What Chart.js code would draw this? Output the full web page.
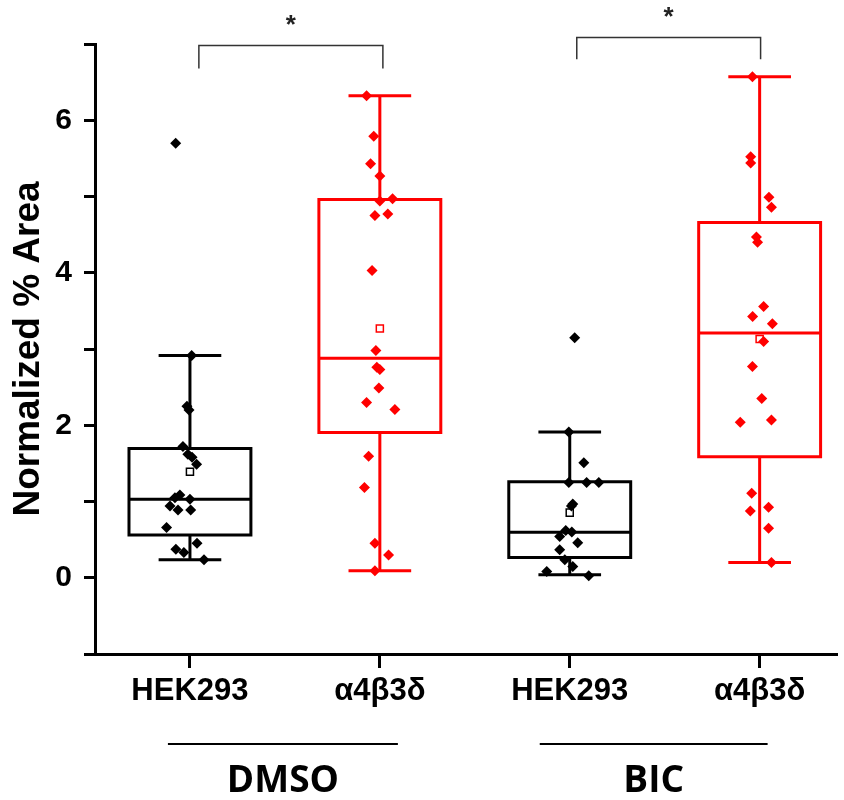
<!DOCTYPE html>
<html>
<head>
<meta charset="utf-8">
<script src="https://cdn.jsdelivr.net/npm/chart.js@4.4.0/dist/chart.umd.min.js"></script>
<style>
  body { margin: 0; background: #fff; }
  canvas { display: block; }
</style>
</head>
<body>
<canvas id="chart" width="844" height="800"></canvas>
<script>
// categories along x
const labels = ['HEK293', 'α4β3δ', 'HEK293', 'α4β3δ']
const positions = [1, 2, 3, 4]
const colors = ['#000000', '#ff0000', '#000000', '#ff0000']

// groups under the axis
const groupNames = ['DMSO', 'BIC']
const groupFrom = [0.884, 2.842]
const groupTo = [2.095, 4.042]

// significance brackets
const bracketFrom = [1.047, 3.037]
const bracketTo = [2.016, 4.005]
const bracketTop = [6.98, 7.085]
const bracketLegs = [6.68, 6.80]
const bracketMark = ['*', '*']

// box stats
const whiskerLow = [0.235, 0.092, 0.039, 0.20]
const q1 = [0.562, 1.905, 0.266, 1.586]
const medians = [1.03, 2.88, 0.597, 3.21]
const q3 = [1.695, 4.96, 1.259, 4.66]
const whiskerHigh = [2.915, 6.32, 1.913, 6.57]
const means = [1.39, 3.27, 0.854, 3.13]

// individual points (jittered x, value)
const dmsoHekX = [0.925, 1.009, 0.984, 0.995, 0.963, 0.989, 1.011, 1.035, 0.947, 0.921, 1.0, 0.895, 0.937, 1.004, 0.877, 1.037, 0.926, 0.968, 1.074]
const dmsoHekY = [5.70, 2.915, 2.25, 2.20, 1.72, 1.62, 1.58, 1.49, 1.085, 1.05, 1.03, 0.94, 0.89, 0.89, 0.658, 0.453, 0.375, 0.33, 0.235]
const dmsoA4X = [1.930, 1.968, 1.951, 2.0, 2.067, 2.0, 1.974, 2.042, 1.959, 1.979, 1.984, 2.0, 1.995, 1.930, 2.079, 1.941, 1.919, 1.974, 2.046, 1.974]
const dmsoA4Y = [6.32, 5.79, 5.43, 5.27, 4.97, 4.94, 4.75, 4.77, 4.03, 2.98, 2.76, 2.73, 2.49, 2.30, 2.205, 1.595, 1.185, 0.453, 0.30, 0.092]
const bicHekX = [3.026, 2.995, 3.074, 2.995, 3.089, 3.153, 3.016, 3.009, 2.979, 3.011, 2.947, 3.042, 2.947, 2.974, 3.016, 2.879, 3.1]
const bicHekY = [3.146, 1.913, 1.507, 1.25, 1.25, 1.25, 0.967, 0.94, 0.62, 0.60, 0.54, 0.46, 0.366, 0.235, 0.148, 0.083, 0.026]
const bicA4X = [3.962, 3.953, 3.953, 4.049, 4.062, 3.983, 3.989, 4.021, 3.963, 4.067, 4.021, 3.962, 4.011, 3.898, 4.062, 3.958, 3.951, 4.047, 4.047, 4.062]
const bicA4Y = [6.57, 5.52, 5.44, 4.99, 4.86, 4.47, 4.40, 3.556, 3.425, 3.33, 3.10, 2.77, 2.35, 2.04, 2.07, 1.107, 0.876, 0.924, 0.65, 0.20]

const pointX = [dmsoHekX, dmsoA4X, bicHekX, bicA4X]
const pointY = [dmsoHekY, dmsoA4Y, bicHekY, bicA4Y]

const boxWidth = 0.642
const capWidth = 0.33

function toPoints(xs, ys) {
    return xs.map((x, i) => ({x: x, y: ys[i]}))
}

const boxPlugin = {
    id: 'boxes',
    beforeDatasetsDraw(chart) {
        let ctx = chart.ctx
        let xs = chart.scales.x, ys = chart.scales.y
        ctx.save()
        ctx.lineWidth = 3
        positions.forEach((p, i) => {
            let cx = xs.getPixelForValue(p)
            let left = xs.getPixelForValue(p - boxWidth / 2)
            let right = xs.getPixelForValue(p + boxWidth / 2)
            let capL = xs.getPixelForValue(p - capWidth / 2)
            let capR = xs.getPixelForValue(p + capWidth / 2)
            let yq1 = ys.getPixelForValue(q1[i])
            let yq3 = ys.getPixelForValue(q3[i])
            let ymed = ys.getPixelForValue(medians[i])
            let ylo = ys.getPixelForValue(whiskerLow[i])
            let yhi = ys.getPixelForValue(whiskerHigh[i])
            ctx.strokeStyle = colors[i]
            ctx.beginPath()
            ctx.rect(left, yq3, right - left, yq1 - yq3)
            ctx.moveTo(left, ymed); ctx.lineTo(right, ymed)
            ctx.moveTo(cx, yq3); ctx.lineTo(cx, yhi)
            ctx.moveTo(cx, yq1); ctx.lineTo(cx, ylo)
            ctx.moveTo(capL, yhi); ctx.lineTo(capR, yhi)
            ctx.moveTo(capL, ylo); ctx.lineTo(capR, ylo)
            ctx.stroke()
        })
        ctx.restore()
    },
    afterDraw(chart) {
        let ctx = chart.ctx
        let xs = chart.scales.x, ys = chart.scales.y
        ctx.save()
        // brackets with stars
        ctx.strokeStyle = '#333'
        ctx.lineWidth = 1.5
        ctx.fillStyle = '#222'
        ctx.font = 'bold 26px "Liberation Sans", Arial'
        ctx.textAlign = 'center'
        ctx.textBaseline = 'middle'
        bracketFrom.forEach((b, i) => {
            let x1 = xs.getPixelForValue(b)
            let x2 = xs.getPixelForValue(bracketTo[i])
            let yt = ys.getPixelForValue(bracketTop[i])
            let yl = ys.getPixelForValue(bracketLegs[i])
            ctx.beginPath()
            ctx.moveTo(x1, yl); ctx.lineTo(x1, yt); ctx.lineTo(x2, yt); ctx.lineTo(x2, yl)
            ctx.stroke()
            ctx.fillText(bracketMark[i], (x1 + x2) / 2, yt - 20)
        })
        // group lines and names
        let lineY = 744
        ctx.strokeStyle = '#000'
        ctx.lineWidth = 2
        ctx.fillStyle = '#000'
        ctx.font = 'bold 37px "Open Sans", Lato, sans-serif'
        groupNames.forEach((g, i) => {
            let x1 = xs.getPixelForValue(groupFrom[i])
            let x2 = xs.getPixelForValue(groupTo[i])
            ctx.beginPath()
            ctx.moveTo(x1, lineY); ctx.lineTo(x2, lineY)
            ctx.stroke()
            ctx.fillText(g, (x1 + x2) / 2, lineY + 37)
        })
        ctx.restore()
    }
}

let datasets = positions.map((p, i) => ({
    label: labels[i],
    data: toPoints(pointX[i], pointY[i]),
    pointStyle: 'rectRot',
    pointRadius: 5.5,
    backgroundColor: colors[i],
    borderColor: colors[i],
    borderWidth: 0
}))
datasets.push({
    label: 'mean',
    data: toPoints(positions, means),
    pointStyle: 'rect',
    pointRadius: 5,
    backgroundColor: '#ffffff',
    borderColor: colors,
    borderWidth: 1.5
})

new Chart(document.getElementById('chart'), {
    type: 'scatter',
    data: {datasets},
    plugins: [boxPlugin],
    options: {
        responsive: false,
        animation: false,
        layout: {padding: {top: 44, right: 0, left: 0, bottom: 0}},
        plugins: {legend: {display: false}, tooltip: {enabled: false}},
        scales: {
            x: {
                type: 'linear',
                min: 0.5,
                max: 4.41,
                afterBuildTicks: s => { s.ticks = positions.map(v => ({value: v})) },
                afterFit: s => { s.height = 146 },
                ticks: {
                    callback: v => labels[positions.indexOf(v)],
                    font: {family: '"Liberation Sans", Arial', size: 31, weight: 'bold'},
                    color: '#000',
                    padding: 5,
                    maxRotation: 0,
                    autoSkip: false
                },
                grid: {drawOnChartArea: false, tickLength: 14, tickWidth: 3, color: '#000'},
                border: {color: '#000', width: 3}
            },
            y: {
                min: -1,
                max: 7,
                afterFit: s => { s.width = 95 },
                ticks: {
                    stepSize: 1,
                    callback: v => (v >= 0 && v % 2 === 0) ? v : '',
                    font: {family: '"Liberation Sans", Arial', size: 30, weight: 'bold'},
                    color: '#000',
                    padding: 12
                },
                grid: {drawOnChartArea: false, tickLength: 11, tickWidth: 3, color: '#000'},
                border: {color: '#000', width: 3},
                title: {
                    display: true,
                    text: 'Normalized % Area',
                    font: {family: '"Liberation Sans", Arial', size: 37, weight: 'bold'},
                    color: '#000',
                    padding: {top: 7, bottom: 0}
                }
            }
        }
    }
})
</script>
</body>
</html>
